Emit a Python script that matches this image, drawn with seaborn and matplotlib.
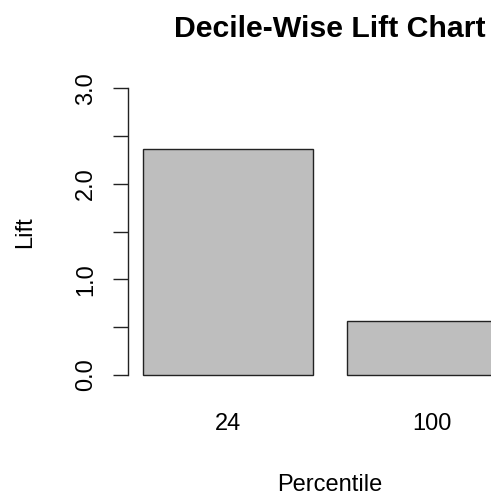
import matplotlib
matplotlib.use("Agg")
import matplotlib.pyplot as plt
import seaborn as sns
import pandas as pd

# data
percentiles = ["24", "100"]
lift = [2.36, 0.565]

df = pd.DataFrame({"Percentile": percentiles, "Lift": lift})

sns.set_style("white")
plt.rcParams["font.family"] = ["Liberation Sans", "DejaVu Sans"]
plt.rcParams["text.color"] = "black"
plt.rcParams["axes.labelcolor"] = "black"
plt.rcParams["xtick.color"] = "black"
plt.rcParams["ytick.color"] = "black"

fig = plt.figure(figsize=(4.91, 4.93), dpi=100)
# plot region runs past the right edge, like the cropped original
ax = fig.add_axes([127.7 / 491, (493 - 386.5) / 493, (532.6 - 127.7) / 491, (386.5 - 76.8) / 493])

sns.barplot(data=df, x="Percentile", y="Lift", order=percentiles, color="#BEBEBE",
            saturation=1, width=1 / 1.2, edgecolor="#222222", linewidth=1.0, ax=ax)

ax.set_xlim(-0.49, 1.49)
ax.set_ylim(-0.12, 3.12)
ax.set_yticks([0, 0.5, 1, 1.5, 2, 2.5, 3])
ax.set_yticklabels(["0.0", "", "1.0", "", "2.0", "", "3.0"], rotation=90, va="center")
for s in ["top", "right", "bottom"]:
    ax.spines[s].set_visible(False)
ax.spines["left"].set_bounds(0, 3)
ax.spines["left"].set_color("#222222")
ax.spines["left"].set_linewidth(1.0)
ax.tick_params(axis="y", left=True, length=10.8, width=1.0, color="#222222", labelsize=17, pad=11.3)
ax.tick_params(axis="x", bottom=False, length=0, labelsize=17, pad=19)

ax.set_xlabel("Percentile", fontsize=17, labelpad=28)
ax.set_ylabel("Lift", fontsize=17, labelpad=27.9)
ax.set_title("Decile-Wise Lift Chart", fontsize=21.8, fontweight="bold", pad=28.6)

fig.savefig("out.png", dpi=100)
